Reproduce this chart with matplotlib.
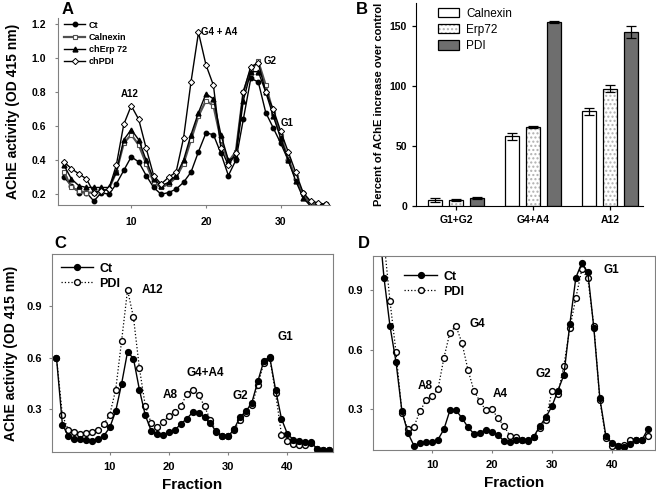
import matplotlib
matplotlib.use("Agg")
import matplotlib.pyplot as plt
import numpy as np
from matplotlib.patches import Patch

plt.rcParams['font.family'] = ['Liberation Sans', 'DejaVu Sans']
plt.rcParams['font.weight'] = 'bold'

# ---------------- Panel A data ----------------
frac_a = list(range(1, 37))
a_ct = [0.30, 0.25, 0.21, 0.21, 0.16, 0.21, 0.20, 0.26, 0.34, 0.42, 0.39, 0.31, 0.24, 0.20, 0.21, 0.23,
        0.27, 0.33, 0.45, 0.56, 0.55, 0.44, 0.31, 0.40, 0.64, 0.88, 0.86, 0.68, 0.59, 0.50, 0.40, 0.29,
        0.21, 0.13, 0.13, 0.13]
a_calnexin = [0.33, 0.24, 0.22, 0.21, 0.21, 0.22, 0.23, 0.33, 0.50, 0.55, 0.49, 0.38, 0.27, 0.24, 0.26, 0.30,
              0.38, 0.52, 0.66, 0.75, 0.72, 0.52, 0.39, 0.45, 0.80, 0.93, 0.98, 0.84, 0.68, 0.54, 0.41, 0.30,
              0.20, 0.15, 0.14, 0.14]
a_erp72 = [0.37, 0.29, 0.25, 0.24, 0.24, 0.24, 0.24, 0.33, 0.52, 0.58, 0.52, 0.40, 0.29, 0.25, 0.27, 0.31,
           0.40, 0.55, 0.68, 0.79, 0.76, 0.55, 0.40, 0.42, 0.75, 0.92, 0.92, 0.80, 0.66, 0.53, 0.40, 0.28,
           0.18, 0.13, 0.14, 0.14]
a_pdi = [0.39, 0.35, 0.32, 0.29, 0.21, 0.22, 0.23, 0.37, 0.61, 0.72, 0.64, 0.47, 0.31, 0.26, 0.30, 0.33,
         0.53, 0.86, 1.15, 0.96, 0.84, 0.47, 0.37, 0.44, 0.80, 0.95, 0.97, 0.80, 0.70, 0.57, 0.45, 0.33,
         0.21, 0.16, 0.15, 0.14]

# ---------------- Panel B data ----------------
b_groups = ["G1+G2", "G4+A4", "A12"]
b_calnexin = [5, 58, 79]
b_calnexin_err = [1.5, 3, 3]
b_erp72 = [5, 66, 97.5]
b_erp72_err = [0.5, 0.8, 3]
b_pdi = [6.5, 153, 145]
b_pdi_err = [1, 1, 5]

# ---------------- Panel C data ----------------
frac_c = list(range(1, 48))
c_ct = [0.60, 0.21, 0.147, 0.13, 0.125, 0.12, 0.118, 0.128, 0.147, 0.195, 0.29, 0.45, 0.635, 0.595, 0.415,
        0.265, 0.175, 0.157, 0.15, 0.167, 0.18, 0.215, 0.246, 0.283, 0.28, 0.255, 0.22, 0.167, 0.143, 0.143,
        0.186, 0.255, 0.288, 0.34, 0.463, 0.58, 0.607, 0.415, 0.245, 0.157, 0.124, 0.115, 0.11, 0.11, 0.07,
        0.062, 0.062]
c_pdi = [0.60, 0.265, 0.18, 0.167, 0.157, 0.16, 0.167, 0.18, 0.215, 0.27, 0.415, 0.70, 0.995, 0.835, 0.54,
         0.32, 0.22, 0.20, 0.225, 0.263, 0.285, 0.317, 0.39, 0.415, 0.385, 0.317, 0.238, 0.172, 0.143, 0.143,
         0.178, 0.236, 0.279, 0.323, 0.44, 0.57, 0.60, 0.395, 0.153, 0.114, 0.10, 0.095, 0.09, 0.105, 0.07,
         0.062, 0.062]

# ---------------- Panel D data ----------------
frac_d_ct = list(range(1, 47))
d_ct = [1.30, 0.964, 0.72, 0.54, 0.29, 0.18, 0.117, 0.13, 0.134, 0.134, 0.147, 0.20, 0.295, 0.295, 0.257,
        0.21, 0.177, 0.183, 0.196, 0.186, 0.172, 0.14, 0.134, 0.147, 0.144, 0.144, 0.163, 0.216, 0.26, 0.315,
        0.394, 0.473, 0.73, 0.964, 1.038, 0.99, 0.71, 0.356, 0.167, 0.13, 0.117, 0.11, 0.127, 0.144, 0.144,
        0.20]
frac_d_pdi = list(range(2, 47))
d_pdi = [1.15, 0.846, 0.59, 0.28, 0.20, 0.213, 0.29, 0.345, 0.366, 0.40, 0.56, 0.687, 0.72, 0.636, 0.50,
         0.394, 0.34, 0.295, 0.30, 0.257, 0.216, 0.167, 0.163, 0.147, 0.14, 0.16, 0.208, 0.246, 0.39, 0.377,
         0.52, 0.71, 0.862, 1.005, 0.96, 0.72, 0.345, 0.155, 0.117, 0.114, 0.122, 0.144, 0.147, 0.144, 0.167]

W, H = 656, 498
fig = plt.figure(figsize=(W / 100, H / 100), dpi=100)


def add_ax(l, r, t, b):
    return fig.add_axes([l / W, 1 - b / H, (r - l) / W, (b - t) / H])


spine_gray = '#808080'

# ---------------- Panel A ----------------
axA = add_ax(58, 330, 18, 205)
axA.plot(frac_a, a_ct, '-', color='black', lw=1.0, marker='o', ms=3.2, mfc='black', mec='black', label='Ct')
axA.plot(frac_a, a_calnexin, '-', color='#505050', lw=1.6, marker='s', ms=3.2, mfc='white', mec='#505050',
         mew=0.8, label='Calnexin')
axA.plot(frac_a, a_erp72, '-', color='black', lw=1.0, marker='^', ms=3.5, mfc='black', mec='black',
         label='chErp 72')
axA.plot(frac_a, a_pdi, '-', color='black', lw=1.0, marker='D', ms=3.2, mfc='white', mec='black', mew=0.7,
         label='chPDI')
axA.set_xlim(0.2, 36.6)
axA.set_ylim(0.137, 1.235)
axA.set_xticks([10, 20, 30])
axA.set_yticks([0.2, 0.4, 0.6, 0.8, 1.0, 1.2])
axA.set_yticklabels(['0.2', '0.4', '0.6', '0.8', '1.0', '1.2'])
for s in ['top', 'right']:
    axA.spines[s].set_visible(False)
for s in ['left', 'bottom']:
    axA.spines[s].set_color(spine_gray)
axA.tick_params(labelsize=7.5, length=2.5, color=spine_gray, pad=6)
axA.set_ylabel('AChE activity (OD 415 nm)', fontsize=10, fontweight='bold', labelpad=8)
legA = axA.legend(loc='upper left', bbox_to_anchor=(0.0, 1.02), frameon=False, fontsize=6.5,
                  handlelength=2.3, handletextpad=0.4, labelspacing=0.35, borderaxespad=0.3)
axA.text(9.8, 0.79, 'A12', fontsize=7, ha='center', va='center')
axA.text(21.8, 1.15, 'G4 + A4', fontsize=7, ha='center', va='center')
axA.text(28.6, 0.98, 'G2', fontsize=7, ha='center', va='center')
axA.text(30.8, 0.62, 'G1', fontsize=7, ha='center', va='center')
fig.text(62 / W, 1 - 10 / H, 'A', fontsize=12, fontweight='bold', ha='left', va='center')

# ---------------- Panel B ----------------
axB = add_ax(416, 643, 3, 206)
xg = np.arange(len(b_groups))
bw = 0.178
sp = 0.27
ek = dict(ecolor='black', elinewidth=0.9, capsize=3.5, capthick=0.9)
axB.bar(xg - sp, b_calnexin, bw, yerr=b_calnexin_err, color='white', edgecolor='black', lw=0.9,
        error_kw=ek)
# dotted fill (light gray dots) drawn underneath, outline on top
axB.bar(xg, b_erp72, bw, color='white', edgecolor='#b0b0b0', lw=0, hatch='....')
axB.bar(xg, b_erp72, bw, yerr=b_erp72_err, color='none', edgecolor='black', lw=0.9,
        error_kw=ek)
axB.bar(xg + sp, b_pdi, bw, yerr=b_pdi_err, color='#6e6e6e', edgecolor='black', lw=0.9,
        error_kw=ek)
axB.set_xlim(-0.52, 2.43)
axB.set_ylim(0, 169)
axB.set_xticks(xg)
axB.set_xticklabels(b_groups)
axB.set_yticks([0, 50, 100, 150])
for s in ['top', 'right']:
    axB.spines[s].set_visible(False)
axB.tick_params(labelsize=7.5, length=3, width=0.9)
axB.set_ylabel('Percent of AChE increase over control', fontsize=8, fontweight='bold', labelpad=4)

hB = [Patch(facecolor='white', edgecolor='black', lw=0.9),
      (Patch(facecolor='white', edgecolor='#b0b0b0', hatch='....', lw=0),
       Patch(facecolor='none', edgecolor='black', lw=0.9)),
      Patch(facecolor='#6e6e6e', edgecolor='black', lw=0.9)]
axB.legend(hB, ['Calnexin', 'Erp72', 'PDI'], loc='upper left', bbox_to_anchor=(0.05, 1.03),
           frameon=False, prop={'size': 8.5, 'weight': 'normal'}, handlelength=1.8, handleheight=0.9,
           labelspacing=0.35, handletextpad=0.6)
fig.text(356 / W, 1 - 10 / H, 'B', fontsize=12, fontweight='bold', ha='left', va='center')

# ---------------- Panel C ----------------
axC = add_ax(52, 333, 254, 452)
axC.plot(frac_c, c_pdi, ':', color='black', lw=0.9, marker='o', ms=4.2, mfc='white', mec='black', mew=1.0,
         label='PDI')
axC.plot(frac_c, c_ct, '-', color='black', lw=1.0, marker='o', ms=4.2, mfc='black', mec='black',
         label='Ct')
axC.set_xlim(0.24, 47.7)
axC.set_ylim(0.052, 1.204)
axC.set_xticks([10, 20, 30, 40])
axC.set_yticks([0.3, 0.6, 0.9])
for s in axC.spines.values():
    s.set_color(spine_gray)
axC.tick_params(labelsize=8, length=2.5, color=spine_gray, pad=5)
axC.set_ylabel('AChE activity (OD 415 nm)', fontsize=10, fontweight='bold', labelpad=6)
axC.set_xlabel('Fraction', fontsize=11, fontweight='bold', labelpad=4)
h, l = axC.get_legend_handles_labels()
axC.legend(h[::-1], l[::-1], loc='upper left', frameon=False, fontsize=9, handlelength=2.6,
           handletextpad=0.5, labelspacing=0.25, borderaxespad=0.3)
axC.text(17.3, 0.995, 'A12', fontsize=8.5, ha='center', va='center')
axC.text(20.2, 0.385, 'A8', fontsize=8.5, ha='center', va='center')
axC.text(26.2, 0.51, 'G4+A4', fontsize=8.5, ha='center', va='center')
axC.text(32.1, 0.38, 'G2', fontsize=8.5, ha='center', va='center')
axC.text(39.6, 0.72, 'G1', fontsize=8.5, ha='center', va='center')
fig.text(54 / W, 1 - 243 / H, 'C', fontsize=12, fontweight='bold', ha='left', va='center')

# ---------------- Panel D ----------------
axD = add_ax(373, 655, 256, 450)
axD.plot(frac_d_pdi, d_pdi, ':', color='black', lw=0.9, marker='o', ms=4.2, mfc='white', mec='black',
         mew=1.0, label='PDI')
axD.plot(frac_d_ct, d_ct, '-', color='black', lw=1.0, marker='o', ms=4.2, mfc='black', mec='black',
         label='Ct')
axD.set_xlim(0.17, 47.2)
axD.set_ylim(0.095, 1.073)
axD.set_xticks([10, 20, 30, 40])
axD.set_yticks([0.3, 0.6, 0.9])
for s in axD.spines.values():
    s.set_color(spine_gray)
axD.tick_params(labelsize=8, length=2.5, color=spine_gray, pad=5)
axD.set_xlabel('Fraction', fontsize=11, fontweight='bold', labelpad=4)
h, l = axD.get_legend_handles_labels()
axD.legend(h[::-1], l[::-1], loc='upper left', bbox_to_anchor=(0.08, 0.97), frameon=False, fontsize=9,
           handlelength=2.6, handletextpad=0.5, labelspacing=0.25, borderaxespad=0.3)
axD.text(17.5, 0.73, 'G4', fontsize=8.5, ha='center', va='center')
axD.text(8.9, 0.42, 'A8', fontsize=8.5, ha='center', va='center')
axD.text(21.4, 0.377, 'A4', fontsize=8.5, ha='center', va='center')
axD.text(28.6, 0.476, 'G2', fontsize=8.5, ha='center', va='center')
axD.text(40.0, 1.0, 'G1', fontsize=8.5, ha='center', va='center')
fig.text(358 / W, 1 - 243 / H, 'D', fontsize=12, fontweight='bold', ha='left', va='center')

fig.savefig('out.png', dpi=100)
